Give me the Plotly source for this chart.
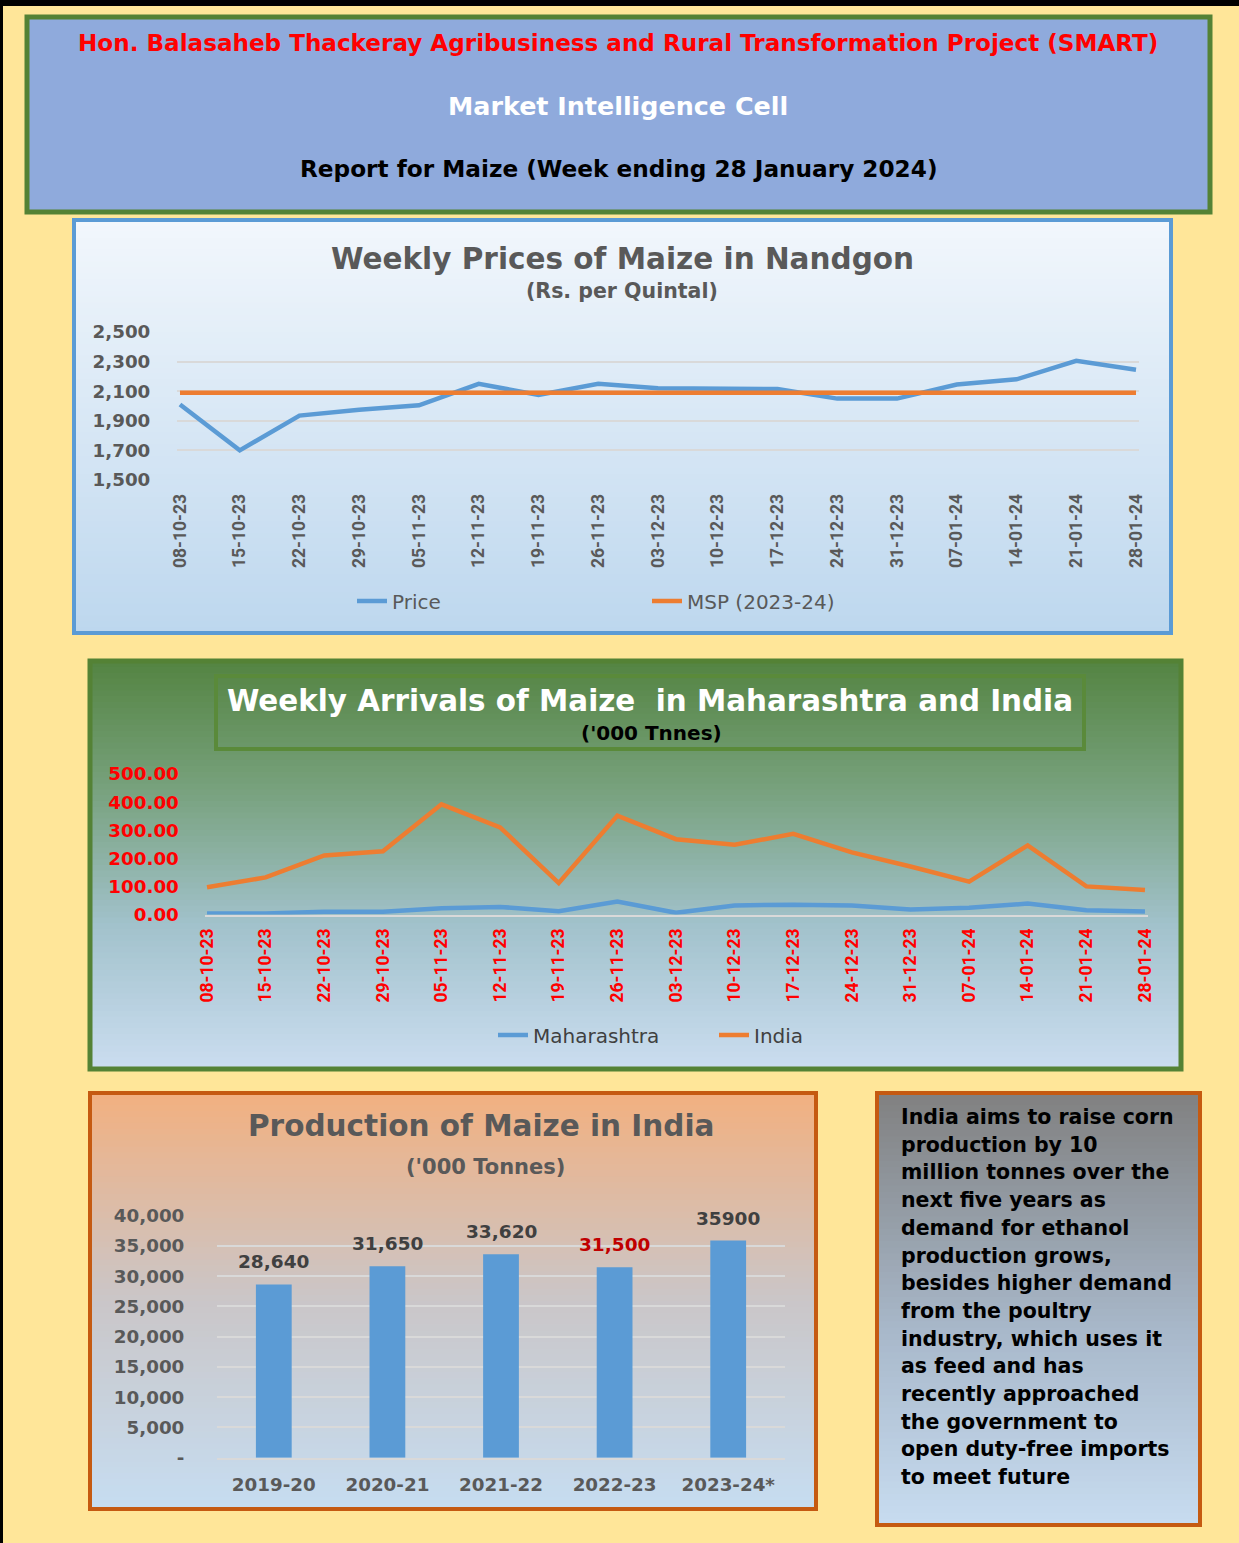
import plotly.graph_objects as go

W, H = 1239, 1543

# ---------------- data ----------------
weeks = ["08-10-23", "15-10-23", "22-10-23", "29-10-23", "05-11-23", "12-11-23",
         "19-11-23", "26-11-23", "03-12-23", "10-12-23", "17-12-23", "24-12-23",
         "31-12-23", "07-01-24", "14-01-24", "21-01-24", "28-01-24"]
price = [2010, 1700, 1935, 1975, 2005, 2150, 2075, 2150, 2120, 2120, 2115,
         2050, 2050, 2145, 2180, 2305, 2245]
msp = [2090, 2090, 2090, 2090, 2090, 2090, 2090, 2090, 2090, 2090, 2090,
       2090, 2090, 2090, 2090, 2090, 2090]
price_ticks = [1500, 1700, 1900, 2100, 2300, 2500]

arr_mh = [4, 4, 10, 10, 22, 27, 12, 46, 6, 32, 35, 32, 18, 24, 39, 15, 11]
arr_in = [97, 132, 210, 225, 392, 310, 112, 352, 268, 248, 287, 221, 171,
          117, 246, 100, 87]
arr_ticks = [0, 100, 200, 300, 400, 500]

years = ["2019-20", "2020-21", "2021-22", "2022-23", "2023-24*"]
production = [28640, 31650, 33620, 31500, 35900]
prod_labels = ["28,640", "31,650", "33,620", "31,500", "35900"]
prod_label_colors = ["#404040", "#404040", "#404040", "#C00000", "#404040"]
prod_ticks = [0, 5000, 10000, 15000, 20000, 25000, 30000, 35000, 40000]
prod_ticktext = ["-", "5,000", "10,000", "15,000", "20,000", "25,000",
                 "30,000", "35,000", "40,000"]

note_lines = ["India aims to raise corn", "production by 10",
              "million tonnes over the", "next five years as",
              "demand for ethanol", "production grows,",
              "besides higher demand", "from the poultry",
              "industry, which uses it", "as feed and has",
              "recently approached", "the government to",
              "open duty-free imports", "to meet future"]

# ---------------- helpers ----------------
FONT = "DejaVu Sans"
BLUE = "#5B9BD5"
ORANGE = "#ED7D31"


def px(x):
    return x / W


def py(y):
    return 1 - y / H


def lerp(c1, c2, t):
    return tuple(round(a + (b - a) * t) for a, b in zip(c1, c2))


def grad_color(stops, t):
    for i in range(len(stops) - 1):
        t0, c0 = stops[i]
        t1, c1 = stops[i + 1]
        if t0 <= t <= t1:
            return lerp(c0, c1, (t - t0) / (t1 - t0) if t1 > t0 else 0)
    return stops[-1][1]


shapes = []


def gradient_box(x0, y0, x1, y1, stops, border, bw, n=70):
    h = (y1 - y0) / n
    for i in range(n):
        c = grad_color(stops, (i + 0.5) / n)
        shapes.append(dict(type="rect", xref="paper", yref="paper", layer="below",
                           x0=px(x0), x1=px(x1), y0=py(y0 + i * h), y1=py(min(y1, y0 + (i + 1) * h + 1)),
                           line=dict(width=0), fillcolor="rgb(%d,%d,%d)" % c))
    shapes.append(dict(type="rect", xref="paper", yref="paper", layer="below",
                       x0=px(x0), x1=px(x1), y0=py(y0), y1=py(y1),
                       line=dict(color=border, width=bw), fillcolor="rgba(0,0,0,0)"))


# page frame
shapes.append(dict(type="rect", xref="paper", yref="paper", layer="below",
                   x0=0, x1=1, y0=py(6), y1=1, line=dict(width=0), fillcolor="black"))
shapes.append(dict(type="rect", xref="paper", yref="paper", layer="below",
                   x0=0, x1=px(3), y0=0, y1=1, line=dict(width=0), fillcolor="black"))

# header
shapes.append(dict(type="rect", xref="paper", yref="paper", layer="below",
                   x0=px(27), x1=px(1210), y0=py(212), y1=py(17),
                   line=dict(color="#548235", width=5), fillcolor="#8FAADC"))

gradient_box(74, 220, 1171, 633,
             [(0, (242, 247, 252)), (1, (189, 215, 238))], BLUE, 4)
gradient_box(90, 661, 1181, 1069,
             [(0, (84, 132, 66)), (0.3, (118, 160, 122)), (0.65, (162, 194, 204)), (1, (203, 221, 240))],
             "#548235", 5)
shapes.append(dict(type="rect", xref="paper", yref="paper", layer="below",
                   x0=px(216), x1=px(1084), y0=py(749), y1=py(676),
                   line=dict(color="#5A8A3A", width=4), fillcolor="rgba(0,0,0,0)"))
gradient_box(90, 1093, 816, 1509,
             [(0, (242, 176, 128)), (0.5, (202, 198, 200)), (1, (198, 221, 241))],
             "#C55A11", 4)
gradient_box(877, 1093, 1200, 1525,
             [(0, (128, 128, 128)), (0.55, (168, 184, 202)), (1, (200, 220, 240))],
             "#C55A11", 4)

# ---------------- figure ----------------
fig = go.Figure()

fig.add_trace(go.Scatter(x=weeks, y=price, name="Price", mode="lines",
                         line=dict(color=BLUE, width=4.5), xaxis="x", yaxis="y",
                         legend="legend"))
fig.add_trace(go.Scatter(x=weeks, y=msp, name="MSP (2023-24)", mode="lines",
                         line=dict(color=ORANGE, width=4.5), xaxis="x", yaxis="y",
                         legend="legend"))

fig.add_trace(go.Scatter(x=weeks, y=arr_mh, name="Maharashtra", mode="lines",
                         line=dict(color=BLUE, width=4.5), xaxis="x2", yaxis="y2",
                         legend="legend2"))
fig.add_trace(go.Scatter(x=weeks, y=arr_in, name="India", mode="lines",
                         line=dict(color=ORANGE, width=4.5), xaxis="x2", yaxis="y2",
                         legend="legend2"))

fig.add_trace(go.Bar(x=years, y=production, marker=dict(color=BLUE, line=dict(width=0)),
                     width=0.315, xaxis="x3", yaxis="y3", showlegend=False))

annotations = []
for yr, v, lab, col in zip(years, production, prod_labels, prod_label_colors):
    annotations.append(dict(x=yr, y=v, xref="x3", yref="y3", text=lab, showarrow=False,
                            yanchor="bottom", yshift=10,
                            font=dict(family=FONT, size=18.5, color=col, weight="bold")))


def ann(x, y, text, size, color, weight="bold", xanchor="center"):
    annotations.append(dict(x=px(x), y=py(y), xref="paper", yref="paper", text=text,
                            showarrow=False, xanchor=xanchor, yanchor="middle",
                            font=dict(family=FONT, size=size, color=color, weight=weight)))


# header texts
ann(618, 43, "Hon. Balasaheb Thackeray Agribusiness and Rural Transformation Project (SMART)", 23.1, "#FF0000")
ann(618, 106, "Market Intelligence Cell", 25.4, "#FFFFFF")
ann(618, 168, "Report for Maize (Week ending 28 January 2024)", 23.2, "#000000")

# chart titles
ann(622, 259, "Weekly Prices of Maize in Nandgon", 29.5, "#595959")
ann(622, 291, "(Rs. per Quintal)", 20.5, "#595959")
ann(650, 701, "Weekly Arrivals of Maize  in Maharashtra and India", 29.4, "#FFFFFF")
ann(651, 733, "('000 Tnnes)", 20, "#000000")
ann(481, 1126, "Production of Maize in India", 29.5, "#595959")
ann(485, 1167, "('000 Tonnes)", 21, "#595959")

# note box
for i, line in enumerate(note_lines):
    ann(899, 1117 + i * 27.7, line, 20.5, "#000000", xanchor="left")

tick_font = dict(family=FONT, size=18.3, color="#595959", weight="bold")
narrow = "Roboto"

fig.update_layout(
    width=W, height=H, margin=dict(l=0, r=0, t=0, b=0, pad=0, autoexpand=False),
    paper_bgcolor="#FFE699", plot_bgcolor="rgba(0,0,0,0)",
    shapes=shapes, annotations=annotations, bargap=0.68,
    xaxis=dict(domain=[px(177), px(1139)], range=[-0.05, 16.05], type="category",
               showgrid=False, zeroline=False, showline=False, tickangle=-90,
               ticks="outside", ticklen=6, tickcolor="rgba(0,0,0,0)",
               tickfont=dict(family=narrow, size=17.5, color="#595959", weight="bold"),
               anchor="y", automargin=False),
    yaxis=dict(domain=[py(480), py(332)], range=[1500, 2500], tickvals=price_ticks,
               tickformat=",", showgrid=True, gridcolor="#D9D9D9", gridwidth=1.5,
               zeroline=False, showline=False, ticks="outside", ticklen=22,
               tickcolor="rgba(0,0,0,0)", tickfont=tick_font, anchor="x", automargin=False),
    xaxis2=dict(domain=[px(204.5), px(1147.5)], range=[-0.043, 16.043], type="category",
                showgrid=False, zeroline=False, showline=True, linecolor="#D9D9D9",
                linewidth=2, tickangle=-90, ticks="outside", ticklen=5,
                tickcolor="rgba(0,0,0,0)",
                tickfont=dict(family=narrow, size=17.5, color="#FF0000", weight="bold"),
                anchor="y2", automargin=False),
    yaxis2=dict(domain=[py(914.5), py(774)], range=[0, 500], tickvals=arr_ticks,
                tickformat=".2f", showgrid=False, zeroline=False, showline=False,
                ticks="outside", ticklen=21, tickcolor="rgba(0,0,0,0)",
                tickfont=dict(family=FONT, size=18.3, color="#FF0000", weight="bold"),
                anchor="x2", automargin=False),
    xaxis3=dict(domain=[px(217), px(785)], type="category", showgrid=False,
                zeroline=False, showline=True, linecolor="#D9D9D9", linewidth=1.5,
                ticks="outside", ticklen=10, tickcolor="rgba(0,0,0,0)",
                tickfont=tick_font, anchor="y3", automargin=False),
    yaxis3=dict(domain=[py(1457.7), py(1215.7)], range=[0, 40000], tickvals=prod_ticks,
                ticktext=prod_ticktext, showgrid=True, gridcolor="#D9D9D9", gridwidth=1.5,
                zeroline=False, showline=False, ticks="outside", ticklen=28,
                tickcolor="rgba(0,0,0,0)", tickfont=tick_font, anchor="x3", automargin=False),
    legend=dict(orientation="h", x=px(352), y=py(601), xanchor="left", yanchor="middle",
                bgcolor="rgba(0,0,0,0)", entrywidth=250, entrywidthmode="pixels",
                font=dict(family=FONT, size=20, color="#595959")),
    legend2=dict(orientation="h", x=px(493), y=py(1035), xanchor="left", yanchor="middle",
                 bgcolor="rgba(0,0,0,0)", entrywidth=176, entrywidthmode="pixels",
                 font=dict(family=FONT, size=20, color="#404040")),
)

fig.write_html(
    "out.html",
    config={"displayModeBar": False},
    post_script=("document.documentElement.style.margin='0';"
                 "document.body.style.margin='0';document.body.style.padding='0';"
                 "document.body.style.overflow='hidden';"
                 "var d=document.getElementById('{plot_id}');"
                 "d.style.position='absolute';d.style.left='0px';d.style.top='0px';"),
)
